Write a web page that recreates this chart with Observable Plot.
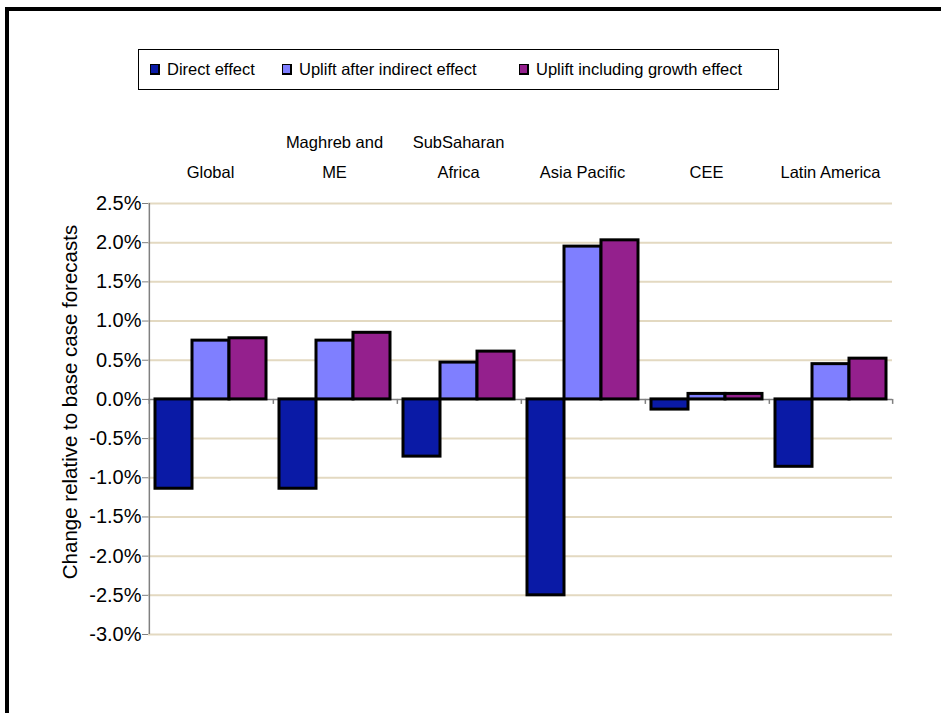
<!DOCTYPE html>
<html>
<head>
<meta charset="utf-8">
<script src="https://cdn.jsdelivr.net/npm/d3@7"></script>
<script src="https://cdn.jsdelivr.net/npm/@observablehq/plot@0.6"></script>
<style>
  html, body { margin: 0; padding: 0; background: #fff; overflow: hidden; }
  #page { position: relative; width: 941px; height: 713px; overflow: hidden; font-family: "Liberation Sans", Arial, sans-serif; }
  #frame { position: absolute; left: 5px; top: 7px; right: -20px; bottom: -20px; border: 4px solid #000; }
  #chart { position: absolute; left: 0; top: 0; }
  #legend { position: absolute; left: 138px; top: 49px; width: 639px; height: 39px; border: 1px solid #000; background: #fff; }
  .item { position: absolute; top: 0; height: 39px; display: flex; align-items: center; font-size: 16.5px; color: #000; white-space: nowrap; }
  .sw { display: inline-block; width: 7px; height: 8px; border: 1.5px solid #000; border-right-width: 2px; border-bottom-width: 2px; margin-right: 7px; }
</style>
</head>
<body>
<div id="page">
  <div id="frame"></div>
  <div id="chart"></div>
  <div id="legend"></div>
</div>
<script>
// ---- data ----
const regions = ["Global", "Maghreb and ME", "SubSaharan Africa", "Asia Pacific", "CEE", "Latin America"];
const regionLabels = ["Global", "Maghreb and\nME", "SubSaharan\nAfrica", "Asia Pacific", "CEE", "Latin America"];
const series = ["Direct effect", "Uplift after indirect effect", "Uplift including growth effect"];
const directEffect   = [-1.14, -1.14, -0.73, -2.50, -0.13, -0.86];
const indirectUplift = [0.75, 0.75, 0.47, 1.95, 0.07, 0.45];
const growthUplift   = [0.78, 0.85, 0.61, 2.03, 0.07, 0.52];
const colors = ["#0A1AA6", "#7F7FFF", "#94208D"];
const yTicks = [-3.0, -2.5, -2.0, -1.5, -1.0, -0.5, 0.0, 0.5, 1.0, 1.5, 2.0, 2.5];
const yTitle = "Change relative to base case forecasts";
const legendLeft = [11, 143, 380]; // legend item offsets inside box

// ---- table ----
const valuesBySeries = [directEffect, indirectUplift, growthUplift];
const table = [];
regions.forEach((r, i) => series.forEach((s, j) => table.push({region: r, series: s, value: valuesBySeries[j][i]})));
const regionRows = regions.map((r, i) => ({region: r, label: regionLabels[i]}));

const bandPad = 24.65; // half a bar slot + outer gap, to reach category boundary

const chart = Plot.plot({
  width: 941,
  height: 713,
  marginLeft: 148,
  marginRight: 49,
  marginTop: 203,
  marginBottom: 79,
  style: {fontFamily: "'Liberation Sans', Arial, sans-serif", fontSize: "16px", color: "#000", background: "transparent"},
  fx: {domain: regions, paddingInner: 0, paddingOuter: 0, axis: null, label: null},
  x: {domain: series, paddingInner: 0, paddingOuter: 0.16, axis: null, label: null},
  y: {domain: [-3, 2.5], axis: null},
  color: {domain: series, range: colors},
  marks: [
    Plot.ruleY(yTicks.filter(d => d !== 0), {stroke: "#E3D9C1", strokeWidth: 2}),
    Plot.ruleY([0], {stroke: "#808080", strokeWidth: 1.5}),
    // category boundary ticks on the zero line
    Plot.ruleX(regionRows, {fx: "region", x: () => series[0], y1: 0, y2: 0, insetBottom: -5, dx: -bandPad, stroke: "#808080", strokeWidth: 1.5}),
    Plot.ruleX([regionRows[regionRows.length - 1]], {fx: "region", x: () => series[2], y1: 0, y2: 0, insetBottom: -5, dx: bandPad, stroke: "#808080", strokeWidth: 1.5}),
    // y axis line
    Plot.ruleX([regionRows[0]], {fx: "region", x: () => series[0], dx: -bandPad, stroke: "#808080", strokeWidth: 1.5}),
    Plot.barY(table, {fx: "region", x: "series", y: "value", fill: "series", stroke: "#000", strokeWidth: 3}),
    Plot.axisY(yTicks, {tickSize: 6, tickPadding: 1, tickFormat: d => d.toFixed(1) + "%", stroke: "#808080", fill: "#000", fontSize: 20, label: null}),
    Plot.text(regionRows, {fx: "region", text: "label", frameAnchor: "top", lineAnchor: "bottom", dy: -26, lineHeight: 1.76, fontSize: 16.5, fill: "#000"}),
    Plot.text([regionRows[0]], {fx: "region", text: () => yTitle, frameAnchor: "left", textAnchor: "middle", dx: -78, dy: -17, rotate: -90, fontSize: 20.5, fill: "#000"})
  ]
});
document.getElementById("chart").appendChild(chart);

// ---- legend ----
const legend = document.getElementById("legend");
series.forEach((s, i) => {
  const item = document.createElement("div");
  item.className = "item";
  item.style.left = legendLeft[i] + "px";
  const sw = document.createElement("span");
  sw.className = "sw";
  sw.style.background = colors[i];
  item.appendChild(sw);
  item.appendChild(document.createTextNode(s));
  legend.appendChild(item);
});
</script>
</body>
</html>
